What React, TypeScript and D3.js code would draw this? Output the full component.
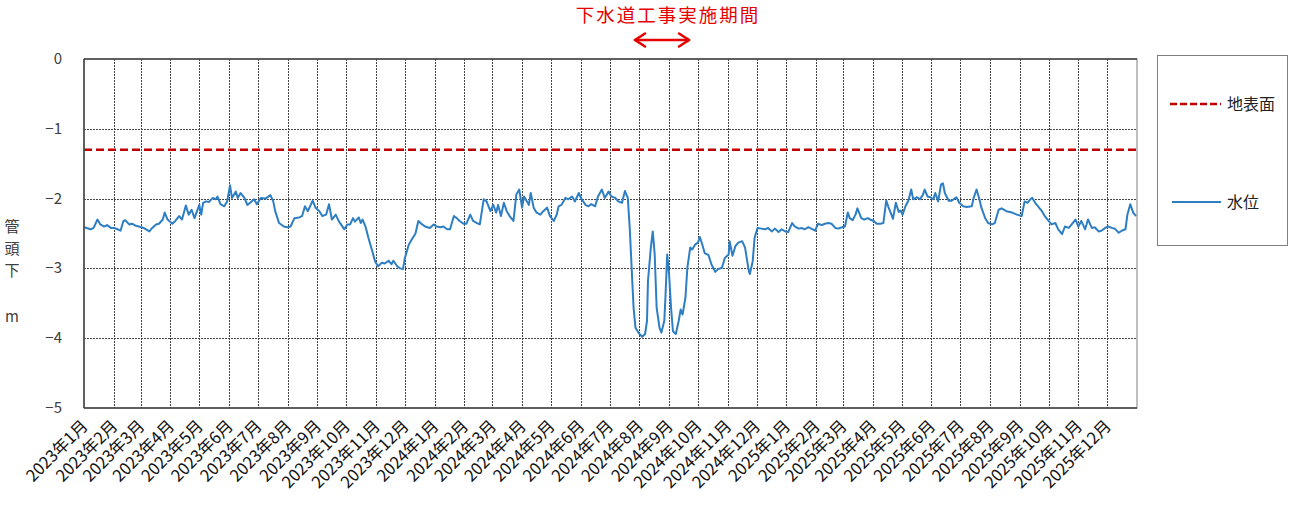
import React from 'react';
import * as d3 from 'd3';

// Observation day offsets from 2023-01-01 and water level (m below pipe head)
const obsDay = [
  0, 7, 10, 14, 17, 21, 24, 28, 31, 35, 38, 41, 43, 47, 50, 54, 57, 62, 68, 71, 75, 78, 82, 84, 87, 92, 95, 99, 102, 106,
  109, 112, 115, 120, 122, 124, 127, 130, 134, 137, 139, 142, 146, 149, 152, 154, 158, 160, 163, 167, 170, 173, 177, 180,
  184, 189, 194, 197, 199, 203, 208, 212, 215, 219, 224, 227, 230, 233, 238, 241, 245, 248, 252, 255, 258, 262, 265, 271,
  274, 277, 280, 282, 286, 288, 290, 293, 296, 300, 303, 306, 310, 313, 317, 320, 322, 326, 329, 332, 334, 338, 341, 345,
  348, 352, 355, 360, 364, 367, 371, 374, 378, 381, 385, 388, 391, 395, 398, 402, 405, 409, 412, 416, 419, 423, 426, 429,
  431, 434, 437, 440, 443, 447, 450, 453, 456, 458, 461, 463, 465, 468, 471, 475, 478, 482, 485, 489, 492, 494, 497, 501,
  504, 508, 511, 515, 518, 522, 525, 528, 532, 535, 539, 542, 546, 549, 553, 556, 560, 563, 566, 568, 570, 572, 574, 577,
  581, 584, 586, 587, 590, 592, 594, 596, 599, 601, 604, 605, 607, 609, 611, 613, 616, 619, 621, 623, 626, 628, 631, 633,
  636, 639, 641, 644, 646, 650, 653, 657, 660, 664, 667, 671, 672, 675, 678, 681, 685, 688, 692, 693, 696, 698, 701, 705,
  709, 712, 716, 719, 723, 726, 730, 733, 737, 740, 744, 747, 750, 754, 757, 761, 764, 768, 771, 775, 778, 782, 785, 789,
  792, 795, 797, 800, 803, 805, 809, 812, 816, 818, 822, 825, 829, 832, 835, 837, 841, 842, 845, 848, 850, 852, 855, 858,
  861, 863, 867, 870, 873, 875, 878, 881, 884, 886, 889, 892, 894, 896, 900, 903, 908, 911, 915, 919, 924, 926, 929, 932,
  934, 938, 941, 945, 948, 952, 955, 960, 966, 971, 976, 979, 982, 985, 987, 990, 993, 997, 1000, 1004, 1007, 1011, 1014,
  1018, 1021, 1025, 1028, 1032, 1035, 1038, 1042, 1045, 1049, 1052, 1056, 1059, 1063, 1066, 1070, 1073, 1077, 1080, 1084,
  1086, 1089, 1092, 1095,
];

const waterLevel = [
  -2.41, -2.44, -2.42, -2.30, -2.37, -2.40, -2.38, -2.42, -2.42, -2.44, -2.46, -2.32, -2.31, -2.37, -2.36, -2.39, -2.40,
  -2.42, -2.47, -2.42, -2.37, -2.36, -2.30, -2.20, -2.30, -2.36, -2.32, -2.25, -2.30, -2.10, -2.23, -2.16, -2.28, -2.09,
  -2.23, -2.06, -2.04, -2.05, -1.99, -2.01, -1.97, -2.08, -2.11, -2.04, -1.81, -1.99, -1.90, -1.99, -1.92, -1.99, -2.09,
  -2.06, -2.01, -2.08, -1.99, -2.00, -1.95, -2.04, -2.18, -2.35, -2.40, -2.41, -2.40, -2.28, -2.27, -2.25, -2.11, -2.18,
  -2.03, -2.13, -2.18, -2.25, -2.23, -2.08, -2.30, -2.23, -2.32, -2.44, -2.37, -2.37, -2.28, -2.33, -2.27, -2.35, -2.30,
  -2.40, -2.56, -2.75, -2.90, -2.97, -2.92, -2.93, -2.89, -2.94, -2.89, -2.97, -3.00, -3.01, -2.85, -2.66, -2.59, -2.50,
  -2.32, -2.37, -2.40, -2.42, -2.37, -2.40, -2.41, -2.40, -2.44, -2.44, -2.25, -2.28, -2.32, -2.36, -2.36, -2.23, -2.32,
  -2.35, -2.37, -2.01, -2.04, -2.18, -2.09, -2.20, -2.09, -2.25, -2.06, -2.18, -2.25, -2.32, -1.94, -1.87, -2.13, -1.97,
  -2.04, -2.09, -1.92, -2.13, -2.20, -2.23, -2.18, -2.13, -2.25, -2.32, -2.23, -2.11, -2.09, -1.99, -2.01, -1.97, -2.04,
  -1.92, -2.01, -2.09, -2.11, -2.08, -2.11, -1.97, -1.87, -1.99, -1.90, -1.97, -1.99, -2.04, -2.06, -1.89, -1.99, -2.42,
  -2.99, -3.56, -3.85, -3.92, -3.98, -3.94, -3.75, -3.18, -2.70, -2.47, -2.80, -3.56, -3.85, -3.92, -3.75, -3.47, -2.80,
  -3.09, -3.56, -3.90, -3.94, -3.75, -3.59, -3.66, -3.42, -2.99, -2.70, -2.73, -2.66, -2.63, -2.55, -2.68, -2.78, -2.81,
  -2.94, -3.05, -3.01, -2.99, -2.85, -2.80, -2.61, -2.82, -2.68, -2.63, -2.61, -2.70, -3.04, -3.08, -2.90, -2.56, -2.42,
  -2.43, -2.44, -2.42, -2.47, -2.43, -2.48, -2.44, -2.47, -2.48, -2.35, -2.40, -2.43, -2.42, -2.44, -2.41, -2.43, -2.46,
  -2.36, -2.38, -2.36, -2.35, -2.36, -2.42, -2.43, -2.41, -2.40, -2.20, -2.28, -2.31, -2.23, -2.14, -2.28, -2.30, -2.28,
  -2.30, -2.32, -2.36, -2.36, -2.35, -2.03, -2.11, -2.25, -2.29, -2.06, -2.19, -2.17, -2.23, -2.11, -2.03, -1.87, -2.01,
  -1.98, -2.01, -1.95, -1.87, -1.97, -1.98, -2.01, -1.92, -2.04, -1.80, -1.78, -1.92, -2.03, -2.03, -1.98, -2.06, -2.11,
  -2.12, -2.11, -1.99, -1.87, -2.01, -2.13, -2.28, -2.35, -2.37, -2.35, -2.16, -2.14, -2.18, -2.20, -2.23, -2.25, -2.04,
  -2.06, -2.01, -1.99, -2.06, -2.11, -2.18, -2.25, -2.32, -2.37, -2.35, -2.44, -2.51, -2.40, -2.42, -2.37, -2.30, -2.40,
  -2.32, -2.44, -2.30, -2.42, -2.41, -2.47, -2.46, -2.42, -2.40, -2.42, -2.43, -2.49, -2.46, -2.44, -2.23, -2.08, -2.20,
  -2.25,
];

const groundLevel = -1.3;
const yTicks = [0, -1, -2, -3, -4, -5];
const years = [2023, 2024, 2025];
const monthNums = [1, 2, 3, 4, 5, 6, 7, 8, 9, 10, 11, 12];
const monthLabels = years.flatMap((yy) => monthNums.map((m) => `${yy}年${m}月`));
const titleText = '下水道工事実施期間';
const legendGround = '地表面';
const legendWater = '水位';
const yTitleChars = ['管', '頭', '下'];
const yTitleUnit = 'm';

const W = 1291;
const H = 506;
const PL = 84, PR = 1137, PT = 59, PB = 408;
const FONT = "'Noto Sans CJK JP', 'Noto Sans', sans-serif";
const RED = '#E60000';
const DARKRED = '#C00000';
const BLUE = '#2E7EC4';

export default function App() {
  const start = new Date(2023, 0, 1);
  const end = new Date(2026, 0, 1);
  const x = d3.scaleTime().domain([start, end]).range([PL, PR]);
  const y = d3.scaleLinear().domain([0, -5]).range([PT, PB]);
  const months = d3.timeMonth.range(start, end);
  const pts: [number, number][] = obsDay.map((d, i) => [x(d3.timeDay.offset(start, d)), y(waterLevel[i])]);
  const linePath = d3.line()(pts) || '';

  return (
    <svg width={W} height={H} style={{ position: 'absolute', left: 0, top: 0, background: '#fff' }} fontFamily={FONT}>
      <rect x={0} y={0} width={W} height={H} fill="#fff" />
      {/* title */}
      <text x={668} y={22} textAnchor="middle" fill={RED} fontSize={18.5} letterSpacing={2}>
        {titleText}
      </text>
      {/* double arrow */}
      <g stroke={RED} strokeWidth={2.6} fill="none" strokeLinecap="round" strokeLinejoin="round">
        <line x1={635} y1={40} x2={689} y2={40} />
        <path d="M645,33.5 L635,40 L645,46.5" />
        <path d="M679,33.5 L689,40 L679,46.5" />
      </g>

      {/* gridlines */}
      <g stroke="#444" strokeWidth={1} strokeDasharray="2,1">
        {yTicks.slice(1, -1).map((t) => (
          <line key={'h' + t} x1={PL} x2={PR} y1={Math.round(y(t)) + 0.5} y2={Math.round(y(t)) + 0.5} />
        ))}
        {months.slice(1).map((m, i) => (
          <line key={'v' + i} x1={Math.round(x(m)) + 0.5} x2={Math.round(x(m)) + 0.5} y1={PT} y2={PB} />
        ))}
      </g>

      {/* ground level */}
      <line x1={PL} x2={PR} y1={y(groundLevel)} y2={y(groundLevel)} stroke={DARKRED} strokeWidth={2.6} strokeDasharray="8,4" />

      {/* water level */}
      <path d={linePath} fill="none" stroke={BLUE} strokeWidth={2} strokeLinejoin="round" />

      {/* plot frame */}
      <rect x={PL} y={PT} width={PR - PL} height={PB - PT} fill="none" stroke="#7f7f7f" strokeWidth={1} />
      <line x1={PL} x2={PL} y1={PT} y2={PB} stroke="#404040" strokeWidth={1.5} />
      <line x1={PL} x2={PR} y1={PT} y2={PT} stroke="#404040" strokeWidth={1.5} />
      <line x1={PL} x2={PR} y1={PB} y2={PB} stroke="#404040" strokeWidth={1.5} />

      {/* y ticks */}
      {yTicks.map((t) => (
        <text key={'yt' + t} x={62} y={y(t) + 5} textAnchor="end" fontSize={15} fill="#404040">
          {t === 0 ? '0' : '\u2212' + Math.abs(t)}
        </text>
      ))}

      {/* y title */}
      {yTitleChars.map((c, i) => (
        <text key={'yc' + i} x={12} y={232 + i * 22} textAnchor="middle" fontSize={15} fill="#404040">
          {c}
        </text>
      ))}
      <text x={12} y={322} textAnchor="middle" fontSize={15} fill="#404040">
        {yTitleUnit}
      </text>

      {/* x labels */}
      {months.map((m, i) => {
        const tx = x(m) + 5;
        const ty = 427;
        return (
          <text key={'xl' + i} x={tx} y={ty} textAnchor="end" fontSize={16.5} fill="#111" transform={`rotate(-45 ${tx} ${ty})`}>
            {monthLabels[i]}
          </text>
        );
      })}

      {/* legend */}
      <rect x={1157.5} y={55.5} width={130} height={190} fill="#fff" stroke="#7f7f7f" strokeWidth={1} />
      <line x1={1170} x2={1221} y1={104} y2={104} stroke={DARKRED} strokeWidth={2.6} strokeDasharray="7,3" />
      <text x={1227} y={110} fontSize={16} fill="#222">{legendGround}</text>
      <line x1={1172} x2={1221} y1={202} y2={202} stroke={BLUE} strokeWidth={1.8} />
      <text x={1227} y={208} fontSize={16} fill="#222">{legendWater}</text>
    </svg>
  );
}
